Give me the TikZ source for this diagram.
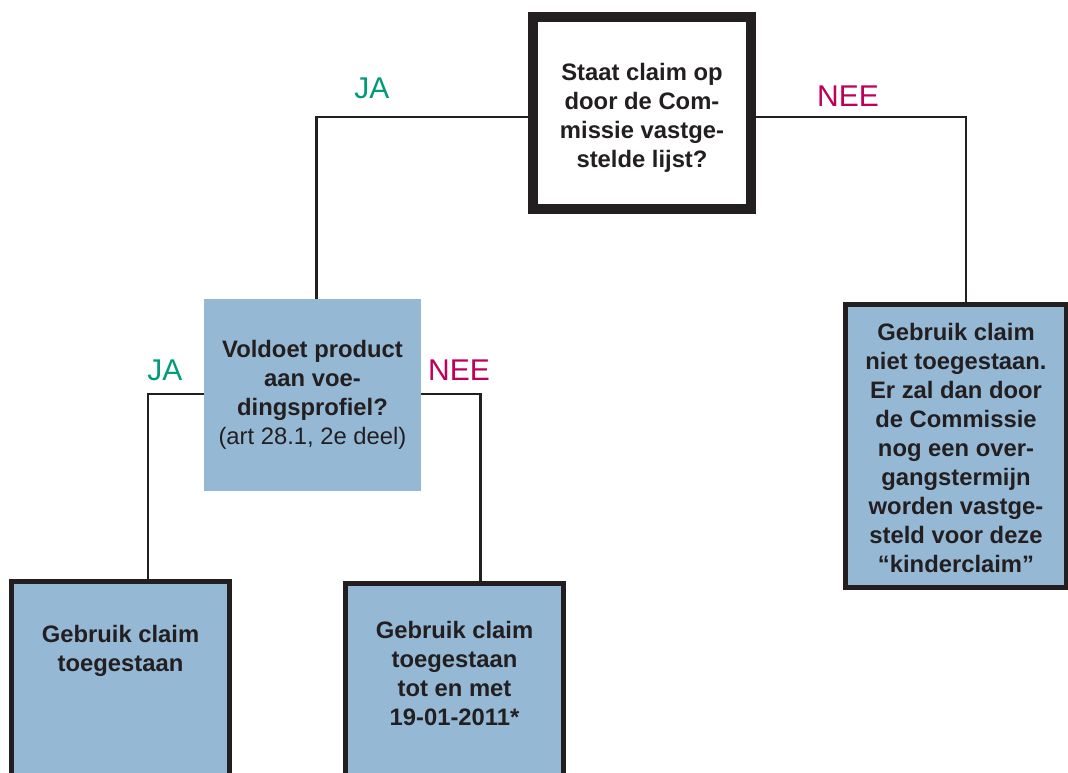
\documentclass[tikz,border=0pt]{standalone}
\usepackage{fontspec}
\setmainfont{Liberation Sans}
\definecolor{boxblue}{RGB}{149,185,213}
\definecolor{ink}{RGB}{35,31,32}
\definecolor{jagreen}{RGB}{0,155,120}
\definecolor{neered}{RGB}{190,0,90}
\begin{document}
\begin{tikzpicture}[x=1pt,y=-1pt,
  bodyfont/.style={font=\fontsize{23.8}{29}\selectfont\bfseries},
  bluebox/.style={rectangle, fill=boxblue, draw=ink, line width=5pt, inner sep=0pt, align=center, text=ink, bodyfont},
  plainblue/.style={rectangle, fill=boxblue, inner sep=0pt, align=center, text=ink, bodyfont},
  whitebox/.style={rectangle, fill=white, draw=ink, line width=10pt, inner sep=0pt, align=center, text=ink, bodyfont},
  boxtext/.style={inner sep=0pt, outer sep=0pt, align=center, text=ink, bodyfont},
  conn/.style={draw=ink, line width=2.5pt},
  jalabel/.style={text=jagreen, font=\fontsize{30}{36}\selectfont, inner sep=0pt},
  neelabel/.style={text=neered, font=\fontsize{30}{36}\selectfont, inner sep=0pt}]
\useasboundingbox (0,0) rectangle (1068,772);
\clip (0,0) rectangle (1068,772);

\node[whitebox, minimum width=218pt, minimum height=192pt] (q1) at (642,113) {};
\node[boxtext] (q1text) at ([yshift=-4.5pt]q1.center)
  {Staat claim op\\door de Com-\\missie vastge-\\stelde lijst?};
\node[plainblue, minimum width=217pt, minimum height=192pt] (q2) at (312.5,395)
  {Voldoet product\\aan voe-\\dingsprofiel?\\{\mdseries (art 28.1, 2e deel)}};
\node[bluebox, minimum width=221pt, minimum height=283pt] (r) at (956,446) {};
\node[boxtext] (rtext) at ([yshift=-1.5pt]r.center)
  {Gebruik claim\\niet toegestaan.\\Er zal dan door\\de Commissie\\nog een over-\\gangstermijn\\worden vastge-\\steld voor deze\\“kinderclaim”};
\node[bluebox, anchor=north, minimum width=218pt, minimum height=240pt] (bl) at (120.5,579) {};
\node[bluebox, anchor=north, minimum width=218pt, minimum height=240pt] (bm) at (454.5,581) {};
\node[boxtext, anchor=north] (bltext) at ([yshift=-46pt]bl.north) {Gebruik claim\\toegestaan};
\node[boxtext, anchor=north] (bmtext) at ([yshift=-40pt]bm.north) {Gebruik claim\\toegestaan\\tot en met\\19-01-2011*};

\draw[conn] ([yshift=-4pt]q1.west) -| ([xshift=4pt]q2.north);
\draw[conn] ([yshift=-4pt]q1.east) -| ([xshift=10pt]r.north);
\draw[conn] ([yshift=1pt]q2.west) -| ([xshift=27.5pt]bl.north);
\draw[conn] ([yshift=1pt]q2.east) -| ([xshift=26pt]bm.north);

\node[jalabel] (ja1) at (372,88) {JA};
\node[neelabel] (nee1) at (848,96) {NEE};
\node[jalabel] (ja2) at (165,370) {JA};
\node[neelabel] (nee2) at (459,370) {NEE};
\end{tikzpicture}
\end{document}
